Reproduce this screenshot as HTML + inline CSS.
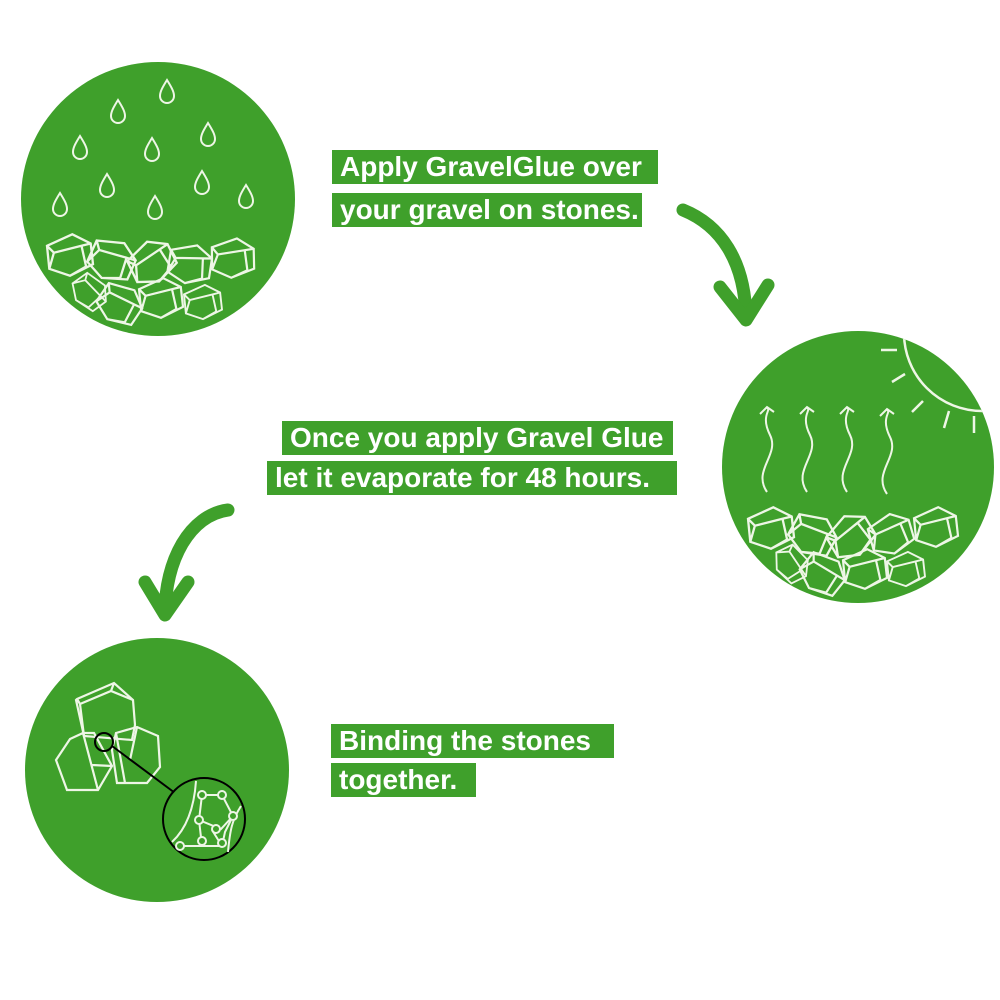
<!DOCTYPE html>
<html><head><meta charset="utf-8"><style>
html,body{margin:0;padding:0;background:#fff;width:1000px;height:1000px;overflow:hidden}
.lb{position:absolute;background:#3fa02b;color:#fff;font:bold 28px "Liberation Sans",sans-serif;line-height:34px;padding:0 8px;white-space:nowrap;box-sizing:border-box}
</style></head><body>
<svg width="1000" height="1000" style="position:absolute;left:0;top:0">
<defs>
<g id="st" fill="none" stroke="#eef6e6" stroke-width="2">
<path d="M-20,-8 L2,-18 L18,-10 L20,8 L0,18 L-18,12 Z M-20,-8 L-14,-2 L10,-8 L18,-10 M-14,-2 L-18,12 M10,-8 L14,10 L0,18"/>
</g>
<g id="dr" fill="none" stroke="#eef6e6" stroke-width="2"><path d="M0,-12 C5,-4 7,0 7,4 A7,7 0 0 1 -7,4 C-7,0 -5,-4 0,-12Z"/></g>
<clipPath id="c2"><circle cx="858" cy="467" r="136"/></clipPath>
</defs>
<circle cx="158" cy="199" r="137" fill="#3fa02b"/>
<circle cx="858" cy="467" r="136" fill="#3fa02b"/>
<circle cx="157" cy="770" r="132" fill="#3fa02b"/>
<use href="#dr" x="118" y="112"/><use href="#dr" x="167" y="92"/><use href="#dr" x="80" y="148"/>
<use href="#dr" x="152" y="150"/><use href="#dr" x="208" y="135"/><use href="#dr" x="107" y="186"/>
<use href="#dr" x="202" y="183"/><use href="#dr" x="60" y="205"/><use href="#dr" x="155" y="208"/><use href="#dr" x="246" y="197"/>
<use href="#st" transform="translate(70,255) scale(1.15)"/><use href="#st" transform="translate(112,260) rotate(30) scale(1.15)"/>
<use href="#st" transform="translate(152,262) rotate(-20) scale(1.15)"/><use href="#st" transform="translate(190,264) rotate(15) scale(1.1)"/>
<use href="#st" transform="translate(233,258) rotate(5) scale(1.1)"/><use href="#st" transform="translate(90,292) rotate(60) scale(.9)"/>
<use href="#st" transform="translate(120,304) rotate(40) scale(1.1)"/><use href="#st" transform="translate(161,298) scale(1.1)"/>
<use href="#st" transform="translate(203,302) scale(.95)"/>
<g clip-path="url(#c2)" stroke="#eef6e6" stroke-width="2.5" fill="none">
<circle cx="982" cy="333" r="78"/>
<path d="M881,350 L897,350 M892,382 L905,374 M912,412 L923,401 M944,428 L949,411 M974,433 L974,416"/>
</g>
<g stroke="#eef6e6" stroke-width="2" fill="none">
<path d="M767,492 C752,470 780,455 770,435 C760,415 772,410 767,408"/>
<path d="M767,492 C752,470 780,455 770,435 C760,415 772,410 767,408" transform="translate(40,0)"/>
<path d="M767,492 C752,470 780,455 770,435 C760,415 772,410 767,408" transform="translate(80,0)"/>
<path d="M767,492 C752,470 780,455 770,435 C760,415 772,410 767,408" transform="translate(120,2)"/>
<path d="M760,414 L767,407 L774,412 M800,414 L807,407 L814,412 M840,414 L847,407 L854,412 M880,416 L887,409 L894,414"/>
</g>
<use href="#st" transform="translate(771,528) scale(1.15)"/><use href="#st" transform="translate(813,535) rotate(35) scale(1.15)"/>
<use href="#st" transform="translate(851,536) rotate(-25) scale(1.15)"/><use href="#st" transform="translate(891,534) rotate(-10) scale(1.1)"/>
<use href="#st" transform="translate(936,527) scale(1.1)"/><use href="#st" transform="translate(792,564) rotate(70) scale(.9)"/>
<use href="#st" transform="translate(823,574) rotate(45) scale(1.1)"/><use href="#st" transform="translate(865,569) scale(1.1)"/>
<use href="#st" transform="translate(906,569) scale(.95)"/>
<g fill="none" stroke="#eef6e6" stroke-width="2.2">
<path d="M77,699 L114,683 L133,700 L135,725 L132,740 L84,736 L76,700 Z M77,699 L80,704 L111,691 L133,700 M80,704 L84,736 M111,691 L114,683"/>
<path d="M70,739 L83,733 L94,733 L112,766 L98,790 L67,790 L56,760 Z M83,733 L98,790 M92,765 L112,766"/>
<path d="M116,733 L137,727 L158,736 L160,767 L147,783 L117,783 L112,750 Z M116,733 L125,783 M137,727 L130,760"/>
</g>
<g fill="none" stroke="#000" stroke-width="2">
<circle cx="104" cy="742" r="9"/>
<line x1="112" y1="746" x2="175" y2="793"/>
<circle cx="204" cy="819" r="41" fill="#3fa02b"/>
</g>
<g fill="none" stroke="#eef6e6" stroke-width="2">
<path d="M196,781 C194,810 185,830 172,842 M241,806 C232,820 230,830 228,852"/>
<path d="M202,795 L222,795 L233,816 L225,832 L222,846 L202,846 L180,846 M202,795 L199,820 L221,829 L233,816 M199,820 L202,846 M212,830 L222,846"/>
<g fill="#3fa02b"><circle cx="202" cy="795" r="4"/><circle cx="222" cy="795" r="4"/><circle cx="233" cy="816" r="4"/><circle cx="199" cy="820" r="4"/><circle cx="216" cy="829" r="4"/><circle cx="202" cy="841" r="4"/><circle cx="222" cy="843" r="4"/><circle cx="180" cy="846" r="4"/></g>
</g>
<g fill="none" stroke="#3fa02b" stroke-width="13" stroke-linecap="round" stroke-linejoin="round">
<path d="M683,210 C720,225 745,260 746,318"/>
<path d="M720,287 L746,320 L768,285"/>
<path d="M228,510 C190,515 165,560 165,614"/>
<path d="M145,582 L165,615 L188,582"/>
</g>
</svg>
<div class="lb" style="left:332px;top:150px;width:326px">Apply GravelGlue over</div>
<div class="lb" style="left:332px;top:193px;width:310px">your gravel on stones.</div>
<div class="lb" style="left:282px;top:421px;width:391px">Once you apply Gravel Glue</div>
<div class="lb" style="left:267px;top:461px;width:410px">let it evaporate for 48 hours.</div>
<div class="lb" style="left:331px;top:724px;width:283px">Binding the stones</div>
<div class="lb" style="left:331px;top:763px;width:145px">together.</div>
</body></html>
